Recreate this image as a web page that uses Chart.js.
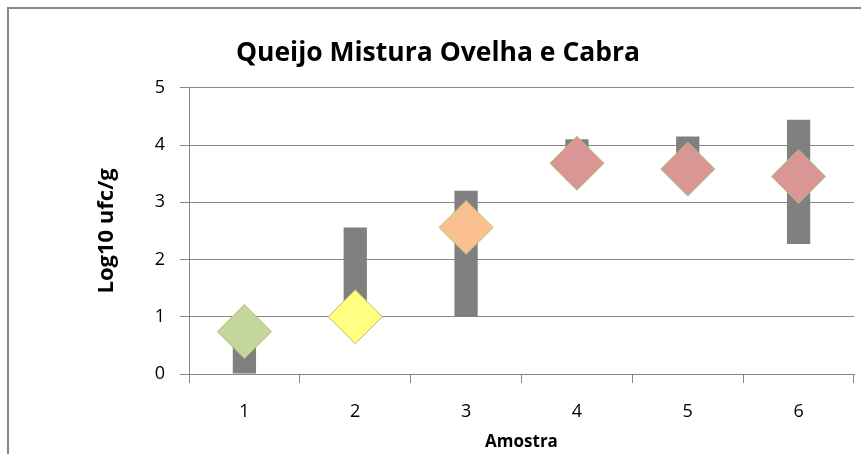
<!DOCTYPE html>
<html>
<head>
<meta charset="utf-8">
<script src="https://cdn.jsdelivr.net/npm/chart.js@4"></script>
<style>
    html, body { margin: 0; padding: 0; background: #fff; }
    #wrap { position: relative; width: 861px; height: 454px; overflow: hidden; }
    #frame { position: absolute; left: 7px; top: 7px; width: 900px; height: 500px; border: 2px solid #888; }
    #chart { position: absolute; left: 0; top: 0; }
</style>
</head>
<body>
<div id="wrap">
    <div id="frame"></div>
    <!-- a bit wider than the window: the big diamonds make Chart.js keep extra padding on the right -->
    <canvas id="chart" width="882" height="454"></canvas>
</div>
<script>
// amostras 1..6
const amostras = ['1', '2', '3', '4', '5', '6'];
// intervalo min-max (barras cinzentas)
const minimos = [0, 0.73, 1.0, 3.4, 3.4, 2.27];
const maximos = [0.9, 2.56, 3.2, 4.1, 4.15, 4.44];
// valor medio (losangos)
const medias = [0.74, 1.0, 2.56, 3.68, 3.58, 3.45];
const coresLosango = ['#C3D69B', '#FFFF80', '#FAC090', '#D99694', '#D99694', '#D99694'];
const yTicks = [0, 1, 2, 3, 4, 5];

const FONT = '"Open Sans", Lato, sans-serif';
const gridColor = '#878787';

document.addEventListener('DOMContentLoaded', function () {
    var ctx = document.getElementById('chart').getContext('2d');

    new Chart(ctx, {
        type: 'bar',
        data: {
            labels: amostras,
            datasets: [
                {
                    type: 'line',
                    data: medias,
                    showLine: false,
                    pointStyle: 'rectRot',
                    pointRadius: 27,
                    pointBackgroundColor: coresLosango,
                    pointBorderColor: '#A8C06E',
                    pointBorderWidth: 1,
                    order: 0,
                    clip: false
                },
                {
                    data: amostras.map(function (_, i) { return [minimos[i], maximos[i]]; }),
                    backgroundColor: '#808080',
                    borderWidth: 0,
                    barPercentage: 0.21,
                    categoryPercentage: 1,
                    order: 1
                }
            ]
        },
        options: {
            responsive: false,
            animation: false,
            layout: { padding: { left: 22, right: 28, top: 10, bottom: 0 } },
            plugins: {
                legend: { display: false },
                tooltip: { enabled: false },
                title: {
                    display: true,
                    text: 'Queijo Mistura Ovelha e Cabra',
                    color: '#000',
                    font: { family: FONT, size: 26.5, weight: 'bold' },
                    padding: { top: 28, bottom: 18 }
                }
            },
            scales: {
                x: {
                    offset: true,
                    grid: { offset: true, drawOnChartArea: false, tickLength: 9, color: gridColor },
                    border: { color: gridColor },
                    ticks: { color: '#000', font: { family: FONT, size: 18 }, padding: 18 },
                    title: {
                        display: true,
                        text: 'Amostra',
                        color: '#000',
                        font: { family: FONT, size: 17, weight: 'bold' },
                        padding: { top: 0, bottom: 2 }
                    },
                    afterFit: function (s) { s.height = 80; }
                },
                y: {
                    min: 0,
                    max: 5,
                    afterBuildTicks: function (s) { s.ticks = yTicks.map(function (v) { return { value: v }; }); },
                    grid: { tickLength: 9, color: gridColor },
                    border: { color: gridColor },
                    ticks: { color: '#000', font: { family: FONT, size: 18 }, padding: 15 },
                    title: {
                        display: true,
                        text: 'Log10 ufc/g',
                        color: '#000',
                        font: { family: FONT, size: 22, weight: 'bold' },
                        padding: { top: 72, bottom: 0 }
                    },
                    afterFit: function (s) { s.width = 167; }
                }
            }
        }
    });
});
</script>
</body>
</html>
